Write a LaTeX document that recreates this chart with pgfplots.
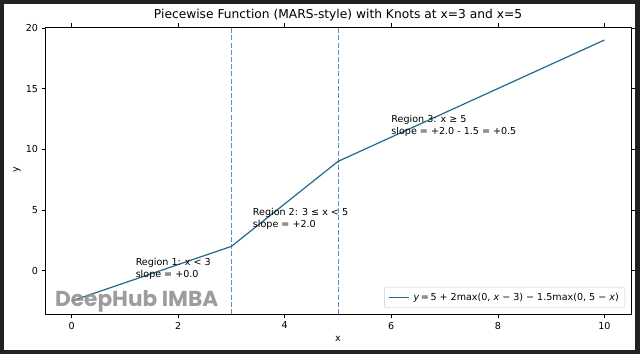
\documentclass[border=0pt]{standalone}
\usepackage{pgfplots}
\pgfplotsset{compat=1.18}
\usepackage{fontspec}
\setmainfont{DejaVu Sans}
\newfontfamily\wmfont{Poppins}
\definecolor{linec}{RGB}{31,105,140}
\definecolor{knotc}{RGB}{95,145,190}
\definecolor{framec}{RGB}{34,34,34}
\begin{document}
\begin{tikzpicture}[x=1bp,y=1bp]
\fill[framec] (0,0) rectangle (640,354);
\fill[white] (4,4) rectangle (635,350);
\begin{axis}[
  at={(45bp,40bp)}, anchor=south west,
  scale only axis, width=586bp, height=287bp,
  xmin=-0.5, xmax=10.5, ymin=-3.575, ymax=20.075,
  xtick={0,2,4,6,8,10}, ytick={0,5,10,15,20},
  tick align=outside, major tick length=3.5bp,
  tick style={black, line width=0.6pt},
  axis line style={line width=0.6pt},
  /pgf/number format/assume math mode=true,
  tick label style={font=\fontsize{9.6}{11}\selectfont},
  xticklabel style={yshift=-1bp},
  legend style={at={(0.9898,0.0209)}, anchor=south east,
    draw=black!20, rounded corners=2bp, fill=white, fill opacity=0.8, text opacity=1,
    font=\fontsize{9.6}{11}\selectfont, inner xsep=4bp, inner ysep=4bp, row sep=0bp},
  legend image code/.code={\draw[#1, line width=1.2pt] (0bp,0bp) -- (20bp,0bp);},
  legend cell align=left,
  clip=false,
]
\addplot[knotc, line width=1pt, dash pattern=on 5bp off 2.2bp, forget plot] coordinates {(3,-3.575) (3,20.075)};
\addplot[knotc, line width=1pt, dash pattern=on 5bp off 2.2bp, forget plot] coordinates {(5,-3.575) (5,20.075)};
\addplot[linec, line width=1.2pt] coordinates {(0,-2.5) (3,2) (5,9) (10,19)};
\addlegendentry{\hspace{2bp}\textit{y}\,=\,5 + 2max(0, \textit{x} − 3) − 1.5max(0, 5 − \textit{x})}
\node[anchor=north west, inner sep=0, align=left, font=\fontsize{9.6}{11.8}\selectfont] at (axis cs:1.2,1.04) {Region 1: x < 3\\slope = +0.0};
\node[anchor=north west, inner sep=0, align=left, font=\fontsize{9.6}{11.8}\selectfont] at (axis cs:3.4,5.16) {Region 2: 3 ≤ x < 5\\slope = +2.0};
\node[anchor=north west, inner sep=0, align=left, font=\fontsize{9.6}{11.8}\selectfont] at (axis cs:6.0,12.8) {Region 3: x ≥ 5\\slope = +2.0 - 1.5 = +0.5};
\end{axis}
\node[font=\fontsize{12.3}{14}\selectfont] at (338,339) {Piecewise Function (MARS-style) with Knots at x=3 and x=5};
\node[font=\fontsize{9.6}{11}\selectfont] at (338,15) {x};
\node[font=\fontsize{9.6}{11}\selectfont, rotate=90] at (17,184) {y};
\node[anchor=base west, inner sep=0, text=gray!90, text opacity=0.85, font=\wmfont\bfseries\fontsize{21.7}{24}\selectfont] at (55,48) {DeepHub IMBA};
\end{tikzpicture}
\end{document}
